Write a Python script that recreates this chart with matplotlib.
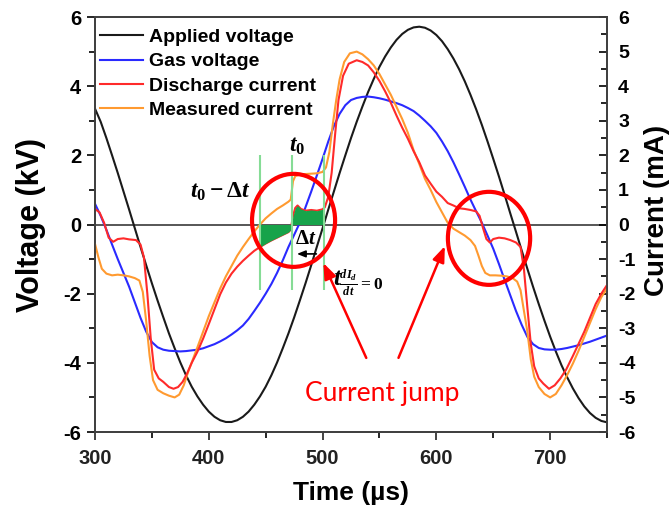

# voltage / current waveforms of the discharge, with the current jump marked
import matplotlib.pyplot as plt
from matplotlib.patches import Ellipse

plt.rcParams['font.family'] = ['Liberation Sans', 'DejaVu Sans']
plt.rcParams['axes.unicode_minus'] = False
plt.rcParams['mathtext.fontset'] = 'custom'
plt.rcParams['mathtext.rm'] = 'Liberation Serif:bold'
plt.rcParams['mathtext.it'] = 'Liberation Serif:italic:bold'
plt.rcParams['mathtext.bf'] = 'Liberation Serif:bold'

############################################################################################################
# data

# applied voltage (kV), every 5 us
t_applied = list(range(300, 751, 5))
applied_voltage = [3.35, 2.97, 2.50, 2.00, 1.49, 0.96, 0.43, -0.11, -0.65, -1.18, -1.70, -2.20,
                   -2.68, -3.15, -3.58, -3.99, -4.36, -4.69, -4.97, -5.21, -5.41, -5.56, -5.66,
                   -5.71, -5.71, -5.66, -5.56, -5.41, -5.21, -4.97, -4.69, -4.36, -3.99, -3.58,
                   -3.15, -2.69, -2.20, -1.70, -1.18, -0.64, -0.11, 0.43, 0.96, 1.49, 2.00, 2.50,
                   2.97, 3.41, 3.83, 4.21, 4.56, 4.86, 5.12, 5.34, 5.51, 5.63, 5.70, 5.72, 5.69,
                   5.61, 5.48, 5.30, 5.07, 4.80, 4.49, 4.14, 3.75, 3.33, 2.88, 2.40, 1.90, 1.39,
                   0.86, 0.32, -0.21, -0.75, -1.28, -1.80, -2.30, -2.78, -3.24, -3.67, -4.07,
                   -4.42, -4.74, -5.02, -5.26, -5.45, -5.59, -5.68, -5.72]

# gas voltage (kV), every 5 us
t_gas = list(range(300, 751, 5))
gas_voltage = [0.60, 0.25, -0.15, -0.58, -1.00, -1.40, -1.80, -2.25, -2.70, -3.10, -3.40, -3.55,
               -3.62, -3.65, -3.66, -3.67, -3.66, -3.64, -3.62, -3.58, -3.52, -3.46, -3.38, -3.29,
               -3.18, -3.06, -2.92, -2.73, -2.50, -2.26, -2.00, -1.72, -1.40, -1.04, -0.65, -0.30,
               0.05, 0.50, 0.95, 1.42, 1.90, 2.40, 2.85, 3.20, 3.45, 3.60, 3.66, 3.69, 3.70, 3.68,
               3.65, 3.61, 3.56, 3.51, 3.45, 3.37, 3.28, 3.15, 3.00, 2.84, 2.65, 2.40, 2.12, 1.80,
               1.45, 1.09, 0.72, 0.38, 0.05, -0.32, -0.70, -1.14, -1.60, -2.05, -2.50, -2.90,
               -3.25, -3.46, -3.57, -3.61, -3.62, -3.62, -3.60, -3.57, -3.53, -3.49, -3.44, -3.39,
               -3.33, -3.27, -3.21]

# discharge current (mA)
t_discharge = [300, 304, 308, 312, 316, 320, 325, 330, 336, 340, 343, 346, 349, 352, 356, 360, 365,
               369, 373, 377, 381, 385, 390, 395, 400, 405, 410, 415, 420, 425, 430, 435, 440, 445,
               450, 455, 460, 465, 470, 472, 474, 476, 478, 481, 485, 490, 495, 500, 502, 505, 508,
               511, 514, 518, 523, 530, 535, 540, 545, 550, 555, 560, 565, 570, 575, 580, 585, 590,
               595, 600, 605, 610, 615, 620, 625, 630, 635, 638, 641, 644, 647, 650, 655, 660, 665,
               670, 674, 677, 680, 683, 686, 690, 694, 699, 704, 709, 714, 720, 725, 730, 735, 740,
               745, 750]
discharge_current = [0.45, 0.35, 0.05, -0.38, -0.50, -0.42, -0.40, -0.43, -0.45, -0.58, -0.95,
                     -2.0, -3.3, -4.2, -4.45, -4.55, -4.70, -4.75, -4.70, -4.55, -4.30, -4.00,
                     -3.68, -3.30, -2.88, -2.45, -2.02, -1.68, -1.42, -1.22, -1.05, -0.90, -0.76,
                     -0.65, -0.55, -0.46, -0.38, -0.30, -0.22, -0.15, 0.25, 0.48, 0.55, 0.45, 0.40,
                     0.42, 0.40, 0.44, 0.50, 0.80, 1.50, 2.60, 3.60, 4.30, 4.65, 4.75, 4.70, 4.60,
                     4.40, 4.15, 3.85, 3.52, 3.15, 2.80, 2.48, 2.12, 1.80, 1.42, 1.18, 0.95, 0.80,
                     0.62, 0.55, 0.47, 0.45, 0.42, 0.38, 0.25, -0.10, -0.42, -0.52, -0.42, -0.38,
                     -0.40, -0.45, -0.52, -0.65, -1.3, -2.4, -3.45, -4.1, -4.45, -4.60, -4.75,
                     -4.65, -4.45, -4.20, -3.80, -3.45, -3.10, -2.70, -2.30, -2.00, -1.75]

# measured current (mA)
t_measured = [300, 303, 306, 310, 315, 320, 325, 330, 335, 339, 342, 345, 348, 351, 355, 360, 365,
              370, 374, 378, 382, 386, 390, 395, 400, 405, 410, 415, 420, 425, 430, 435, 440, 445,
              450, 455, 460, 465, 470, 472, 474, 476, 480, 485, 490, 495, 500, 503, 506, 509, 512,
              515, 519, 524, 530, 535, 540, 545, 550, 555, 560, 565, 570, 575, 580, 585, 590, 595,
              600, 605, 610, 615, 620, 625, 630, 634, 637, 640, 643, 647, 652, 657, 662, 667, 671,
              674, 677, 680, 683, 686, 690, 695, 700, 705, 710, 715, 720, 725, 730, 735, 740, 745,
              750]
measured_current = [-0.56, -0.95, -1.28, -1.42, -1.47, -1.45, -1.47, -1.50, -1.55, -1.62, -1.95,
                    -2.8, -3.8, -4.5, -4.78, -4.88, -4.95, -5.00, -4.92, -4.65, -4.25, -3.90,
                    -3.55, -3.10, -2.65, -2.25, -1.85, -1.50, -1.20, -0.90, -0.65, -0.42, -0.20,
                    0.00, 0.18, 0.32, 0.45, 0.55, 0.66, 0.72, 1.25, 1.40, 1.45, 1.46, 1.47, 1.48,
                    1.52, 1.65, 2.1, 2.9, 3.6, 4.2, 4.7, 4.95, 5.00, 4.92, 4.78, 4.60, 4.35, 4.05,
                    3.75, 3.40, 3.05, 2.65, 2.15, 1.75, 1.32, 1.00, 0.65, 0.35, 0.05, -0.12, -0.22,
                    -0.32, -0.45, -0.62, -0.90, -1.20, -1.40, -1.47, -1.47, -1.48, -1.50, -1.55,
                    -1.65, -1.90, -2.50, -3.10, -3.90, -4.40, -4.70, -4.90, -5.00, -4.90, -4.65,
                    -4.35, -4.02, -3.65, -3.25, -2.85, -2.45, -2.10, -1.85]

# t0 - dt, t0 and t(dId/dt = 0)
marker_times = [445, 473, 501]

############################################################################################################

fig = plt.figure(figsize=(6.7, 5.08), dpi=100)
ax = fig.add_axes([0.1418, 0.1496, 0.7642, 0.8169])
ax2 = ax.twinx()

ax.axhline(0, color='#3a3a3a', lw=1.2, zorder=1)
l1, = ax.plot(t_applied, applied_voltage, color='#1a1a1a', lw=1.5, label='Applied voltage')
l2, = ax.plot(t_gas, gas_voltage, color='#2a2aff', lw=1.5, label='Gas voltage')
l4, = ax2.plot(t_measured, measured_current, color='#ff9a30', lw=1.5, label='Measured current')
l3, = ax2.plot(t_discharge, discharge_current, color='#ff2a2a', lw=1.5, label='Discharge current')

# green shaded charge between t0-dt and t(dId/dt=0)
inside = [marker_times[0] <= t <= marker_times[2] for t in t_discharge]
ax2.fill_between(t_discharge, discharge_current, 0, where=inside, interpolate=True,
                 color='#17a34a', lw=0, zorder=2)
ax2.vlines(marker_times, -1.9, 2.0, color='#86dc96', lw=1.5, zorder=3)

# text labels for the times
ax2.text(410, 0.94, r'$t_0 - \Delta t$', fontsize=17, ha='center', va='center')
ax2.text(478, 2.28, r'$t_0$', fontsize=17, ha='center', va='center')
ax2.text(485, -0.40, r'$\Delta t$', fontsize=15, ha='center', va='center')
ax2.text(509, -1.7, r'$t_{\frac{dI_d}{dt}=0}$', fontsize=18, ha='left', va='center')
ax2.annotate('', xy=(475, -0.85), xytext=(497, -0.85),
             arrowprops=dict(arrowstyle='-|>,head_length=0.5,head_width=0.2', color='black',
                             lw=1.2, mutation_scale=10))

# red circles + arrows
ax2.add_patch(Ellipse((474.5, 0.12), 73, 2.69, fill=False, ec='#ff0000', lw=3, zorder=6))
ax2.add_patch(Ellipse((646.3, -0.40), 72.3, 2.69, fill=False, ec='#ff0000', lw=3, zorder=6))
ax2.annotate('', xy=(499.7, -1.04), xytext=(539.4, -3.93),
             arrowprops=dict(arrowstyle='-|>,head_length=0.47,head_width=0.18', color='#ff0000',
                             lw=1.8, mutation_scale=20))
ax2.annotate('', xy=(608.4, -0.55), xytext=(565.8, -3.93),
             arrowprops=dict(arrowstyle='-|>,head_length=0.47,head_width=0.18', color='#ff0000',
                             lw=1.8, mutation_scale=20))
ax2.text(552, -4.9, 'Current jump', fontsize=19, color='#ff0000', family='Lato',
         ha='center', va='center')

# axes
ax.set_xlim(300, 750)
ax.set_ylim(-6, 6)
ax2.set_ylim(-6, 6)
ax.set_xticks([300, 400, 500, 600, 700])
ax.set_xticks([350, 450, 550, 650, 750], minor=True)
ax.set_yticks([-6, -4, -2, 0, 2, 4, 6])
ax.set_yticks([-5, -3, -1, 1, 3, 5], minor=True)
ax2.set_yticks(range(-6, 7))
ax2.set_yticks([v + 0.5 for v in range(-6, 6)], minor=True)

ax.tick_params(axis='x', which='major', direction='out', length=6, width=1.2, pad=6,
               labelsize=14.5, colors='#222222')
ax.tick_params(axis='x', which='minor', direction='out', length=4, width=1.2)
ax.tick_params(axis='y', which='major', direction='out', length=6, width=1.2, pad=4,
               labelsize=14.5)
ax.tick_params(axis='y', which='minor', direction='out', length=4, width=1.2)
ax2.tick_params(axis='y', which='major', direction='in', length=6, width=1.2, pad=8,
                labelsize=14)
ax2.tick_params(axis='y', which='minor', direction='in', length=4, width=1.2)
for a in (ax, ax2):
    for lab in a.get_xticklabels() + a.get_yticklabels():
        lab.set_fontweight('bold')
    for s in a.spines.values():
        s.set_color('#404040')
        s.set_linewidth(1.3)

ax.set_xlabel('Time (µs)', fontsize=19, fontweight='bold', va='center')
ax.xaxis.set_label_coords(0.5, -0.147)
ax.set_ylabel('Voltage (kV)', fontsize=22, fontweight='bold', va='center')
ax.yaxis.set_label_coords(-0.125, 0.5)
ax2.set_ylabel('Current (mA)', fontsize=20, fontweight='bold', va='center', rotation=90)
ax2.yaxis.set_label_coords(1.098, 0.535)

ax2.legend(handles=[l1, l2, l3, l4], loc='upper left', bbox_to_anchor=(0.0098, 0.972),
           frameon=False, borderpad=0, borderaxespad=0, handlelength=2.2, handletextpad=0.3,
           labelspacing=0.34, prop={'weight': 'bold', 'size': 14})

plt.savefig('out.png', dpi=100)
